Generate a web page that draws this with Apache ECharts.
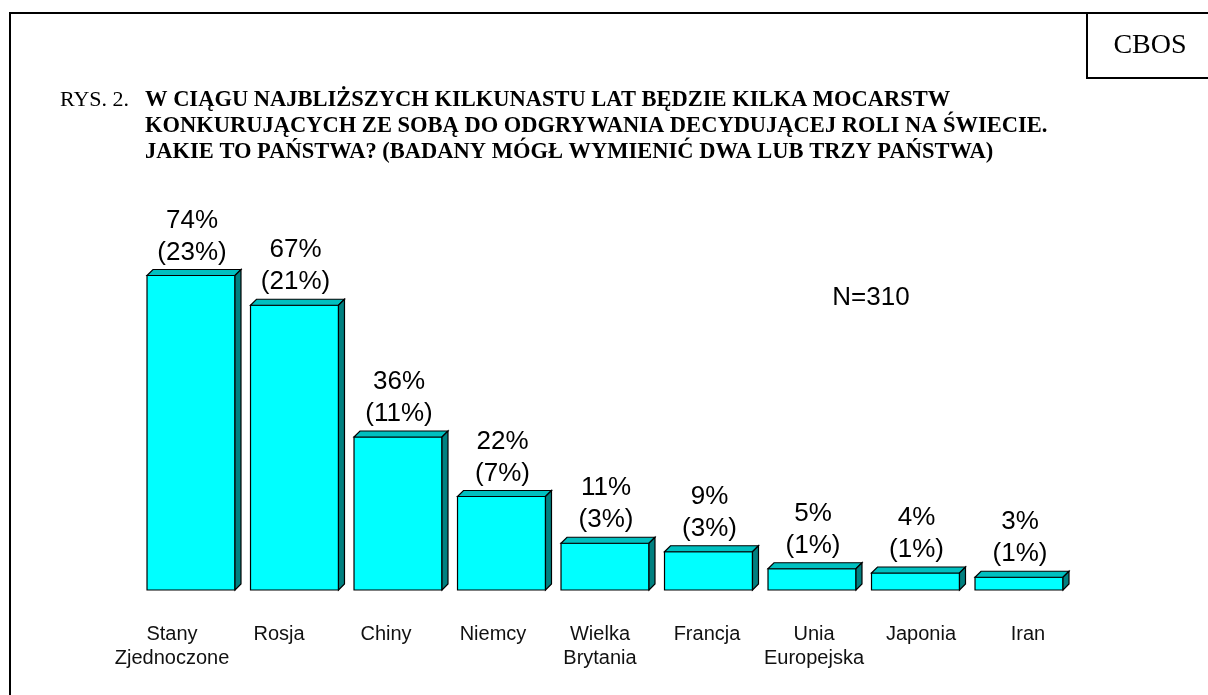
<!DOCTYPE html>
<html>
<head>
<meta charset="utf-8">
<script src="https://cdn.jsdelivr.net/npm/echarts@6/dist/echarts.min.js"></script>
<style>
html,body{margin:0;padding:0;background:#fff;}
#chart{width:1208px;height:695px;}
</style>
</head>
<body>
<div id="chart"></div>
<script>
const categories = ['Stany\nZjednoczone','Rosja','Chiny','Niemcy','Wielka\nBrytania','Francja','Unia\nEuropejska','Japonia','Iran'];
const totals = [74, 67, 36, 22, 11, 9, 5, 4, 3];
const shares = [23, 21, 11, 7, 3, 3, 1, 1, 1];
const sampleNote = 'N=310';
const titlePrefix = 'RYS. 2.';
const titleLines = [
  'W CIĄGU NAJBLIŻSZYCH KILKUNASTU LAT BĘDZIE KILKA MOCARSTW',
  'KONKURUJĄCYCH ZE SOBĄ DO ODGRYWANIA DECYDUJĄCEJ ROLI NA ŚWIECIE.',
  'JAKIE TO PAŃSTWA? (BADANY MÓGŁ WYMIENIĆ DWA LUB TRZY PAŃSTWA)'
];
const brand = 'CBOS';

const chart = echarts.init(document.getElementById('chart'), null, {renderer:'canvas'});

const seriesData = totals.map((v, i) => [i, v, shares[i]]);

function renderBar(params, api) {
  const idx = api.value(0);
  const val = api.value(1);
  const share = api.value(2);
  const top = api.coord([idx, val]);
  const base = api.coord([idx, 0]);
  const w = api.size([1, 0])[0] * 0.85;
  const d = 6;
  const l = top[0] - w / 2;
  const t = top[1];
  const b = base[1];
  return {
    type: 'group',
    children: [
      {type:'rect', shape:{x:l, y:t, width:w, height:b - t},
       style:{fill:'#00FFFF', stroke:'#000', lineWidth:1.2}},
      {type:'polygon', shape:{points:[[l,t],[l+d,t-d],[l+w+d,t-d],[l+w,t]]},
       style:{fill:'#00C0C0', stroke:'#000', lineWidth:1.2}},
      {type:'polygon', shape:{points:[[l+w,t],[l+w+d,t-d],[l+w+d,b-d],[l+w,b]]},
       style:{fill:'#008080', stroke:'#000', lineWidth:1.2}},
      {type:'text', x:l + w/2 + 1, y:t - 7,
       style:{text: val + '%\n(' + share + '%)', fill:'#000',
              font:'26px "Liberation Sans", Arial, sans-serif',
              lineHeight:32, align:'center', verticalAlign:'bottom'}}
    ]
  };
}

const option = {
  animation: false,
  backgroundColor: '#fff',
  grid: [
    {left: 139.25, width: 931.5, top: 165, height: 425},
    {left: 118.5, width: 963, top: 165, height: 425}
  ],
  xAxis: [
    {type:'category', gridIndex:0, data: categories, show:false},
    {type:'category', gridIndex:1, data: categories,
     axisLine:{show:false}, axisTick:{show:false},
     axisLabel:{show:true, interval:0, margin:32, color:'#111',
       fontFamily:'"Liberation Sans", Arial, sans-serif', fontSize:20, lineHeight:24}}
  ],
  yAxis: [
    {type:'value', gridIndex:0, min:0, max:100, show:false},
    {type:'value', gridIndex:1, min:0, max:100, show:false}
  ],
  series: [{
    type:'custom', xAxisIndex:0, yAxisIndex:0,
    renderItem: renderBar,
    data: seriesData
  }],
  graphic: [
    {type:'polyline', shape:{points:[[10,720],[10,13],[1230,13]]},
     style:{stroke:'#000', lineWidth:2, fill:null}},
    {type:'polyline', shape:{points:[[1087,13],[1087,78],[1230,78]]},
     style:{stroke:'#000', lineWidth:2, fill:null}},
    {type:'text', x:1150, y:46,
     style:{text: brand, fill:'#000', font:'28px "Liberation Serif", "Times New Roman", serif',
            align:'center', verticalAlign:'middle'}},
    {type:'text', x:60, y:87,
     style:{text: titlePrefix, fill:'#000', font:'22px "Liberation Serif", "Times New Roman", serif',
            verticalAlign:'top', lineHeight:26}},
    {type:'text', x:145, y:87,
     style:{text: titleLines.join('\n'), fill:'#000',
            font:'bold 22.5px "Liberation Serif", "Times New Roman", serif',
            verticalAlign:'top', lineHeight:26}},
    {type:'text', x:871, y:298,
     style:{text: sampleNote, fill:'#000', font:'26px "Liberation Sans", Arial, sans-serif',
            align:'center', verticalAlign:'middle'}}
  ]
};
chart.setOption(option);
</script>
</body>
</html>
